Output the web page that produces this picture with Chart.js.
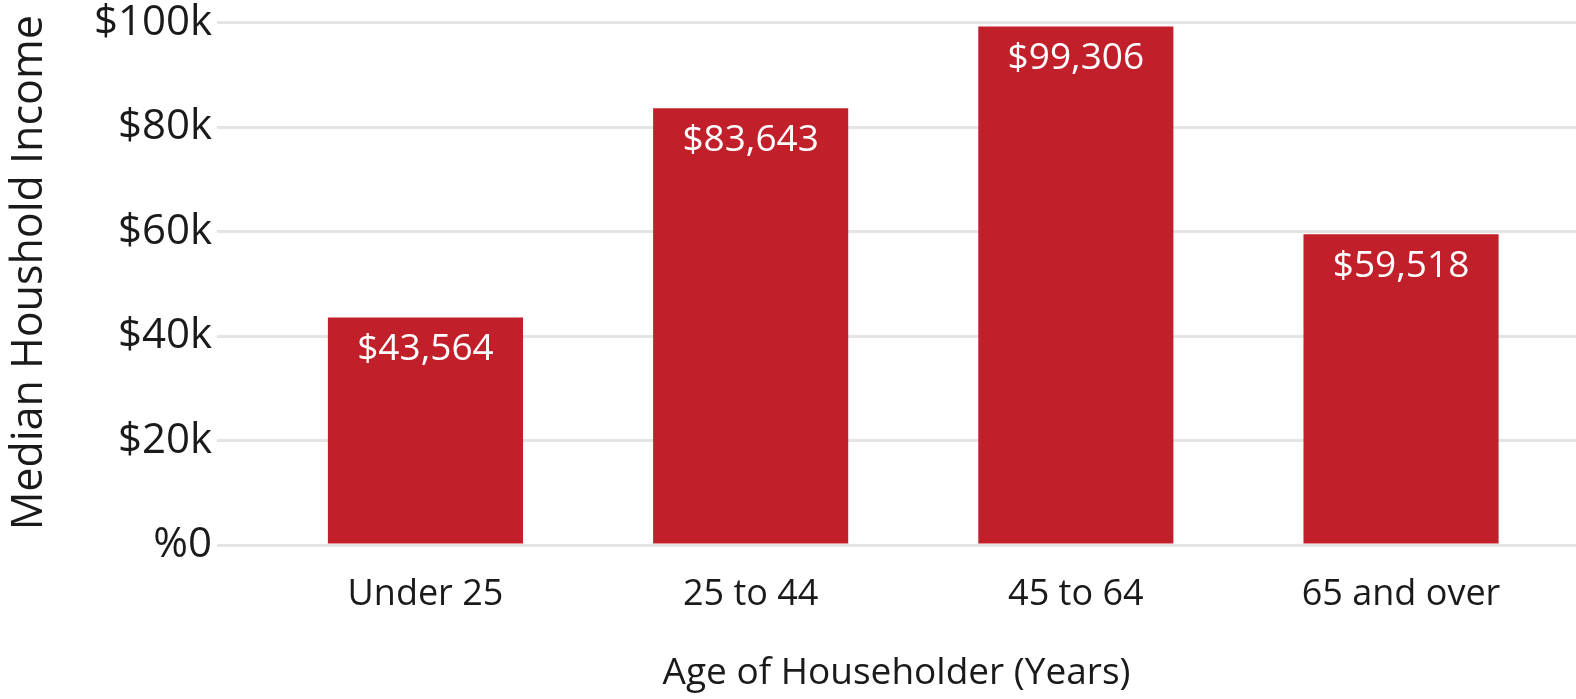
<!DOCTYPE html>
<html>
<head>
<meta charset="utf-8">
<script src="https://cdn.jsdelivr.net/npm/chart.js@4/dist/chart.umd.min.js"></script>
<style>
  html, body { margin: 0; padding: 0; background: #fff; }
  #wrap { width: 1576px; height: 699px; }
</style>
</head>
<body>
<div id="wrap"><canvas id="incomeChart" width="1576" height="699"></canvas></div>
<script>
var ageGroups = ['Under 25', '25 to 44', '45 to 64', '65 and over'];
var medianIncome = [43564, 83643, 99306, 59518];
var valueLabels = ['$43,564', '$83,643', '$99,306', '$59,518'];
var yTickLabels = ['%0', '$20k', '$40k', '$60k', '$80k', '$100k'];

var FONT = "'Open Sans', sans-serif";
var TEXT = '#1a1a1a';
var BAR_RED = '#c1202a';

// writes the value inside the top of each bar
var barValues = {
  id: 'barValues',
  afterDatasetsDraw: function(chart) {
    var ctx = chart.ctx;
    var meta = chart.getDatasetMeta(0);
    ctx.save();
    ctx.fillStyle = '#ffffff';
    ctx.font = '37px ' + FONT;
    ctx.textAlign = 'center';
    ctx.textBaseline = 'middle';
    meta.data.forEach(function(bar, i) {
      ctx.fillText(valueLabels[i], bar.x, bar.y + 32);
    });
    ctx.restore();
  }
};

document.addEventListener("DOMContentLoaded", function() {
  var ctxCanvas = document.getElementById('incomeChart');
  var points = medianIncome.map(function(v, i) { return { x: i, y: v }; });

  new Chart(ctxCanvas.getContext('2d'), {
    type: 'bar',
    data: {
      datasets: [{
        label: 'Median Houshold Income',
        data: points,
        backgroundColor: BAR_RED,
        borderWidth: 0,
        barPercentage: 0.6,
        categoryPercentage: 1.0
      }]
    },
    options: {
      responsive: false,
      animation: false,
      layout: { padding: { top: 21, right: 0, bottom: 0, left: 0 } },
      plugins: {
        legend: { display: false },
        tooltip: { enabled: false }
      },
      scales: {
        x: {
          type: 'linear',
          offset: false,
          min: -0.641,
          max: 3.538,
          grid: { display: false, offset: false },
          border: { display: false },
          afterFit: function(scale) { scale.height = 154; },
          ticks: {
            stepSize: 1,
            includeBounds: false,
            autoSkip: false,
            maxRotation: 0,
            padding: 20,
            color: TEXT,
            font: { family: FONT, size: 36 },
            callback: function(v) {
              return Number.isInteger(v) && ageGroups[v] ? ageGroups[v] : '';
            }
          },
          title: {
            display: true,
            text: 'Age of Householder (Years)',
            color: TEXT,
            font: { family: FONT, size: 37 },
            padding: { top: 0, bottom: 3 }
          }
        },
        y: {
          min: 0,
          max: 100000,
          afterFit: function(scale) { scale.width = 217; },
          grid: { color: '#e4e4e4', lineWidth: 3, drawTicks: false },
          border: { display: false },
          ticks: {
            stepSize: 20000,
            padding: 5,
            color: TEXT,
            font: { family: FONT, size: 42, lineHeight: 0.85 },
            callback: function(v) { return yTickLabels[Math.round(v / 20000)]; }
          },
          title: {
            display: true,
            // leading spaces nudge the centred title up a little
            text: '\u00a0\u00a0Median Houshold Income',
            color: TEXT,
            font: { family: FONT, size: 43, lineHeight: 1.2 },
            padding: { top: 4, bottom: 0 }
          }
        }
      }
    },
    plugins: [barValues]
  });
});
</script>
</body>
</html>
